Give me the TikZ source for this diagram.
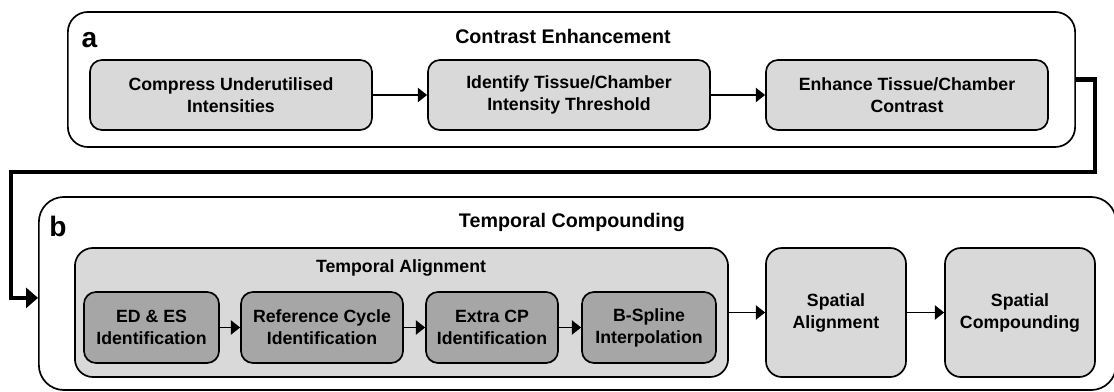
\documentclass[tikz,border=0pt]{standalone}
\usepackage{fontspec}
\setmainfont{Liberation Sans}
\usetikzlibrary{arrows.meta}
\usetikzlibrary{positioning}
\definecolor{lightGray}{HTML}{D9D9D9}
\definecolor{darkGray}{HTML}{A6A6A6}
\tikzstyle{normalLine}=[line width=1.2pt]
\tikzstyle{thickLine}=[line width=3pt]
\tikzstyle{Panel}=[normalLine,draw,fill=white,rounded corners=.5cm,inner sep=0pt]
\tikzstyle{Block}=[normalLine,draw,fill=lightGray,rounded corners=.3cm,align=center,inner sep=0pt,font=\fontsize{12.6}{15.6}\selectfont\bfseries]
\tikzstyle{SubBlock}=[Block,fill=darkGray]
\tikzstyle{Arrow}=[line width=1.4pt,-{Triangle[length=.23cm,width=.35cm]}]
\tikzstyle{BigArrow}=[thickLine,-{Triangle[length=.3cm,width=.5cm]}]
\tikzstyle{Title}=[font=\fontsize{14}{17}\selectfont\bfseries]
\tikzstyle{Letter}=[font=\fontsize{20}{24}\selectfont\bfseries]

\begin{document}
\begin{tikzpicture}[x=0.025cm,y=-0.025cm]

  \useasboundingbox (0,0) rectangle (1114,392);

  % Panel a
  % -------
  \node [Panel,minimum width=25.175cm,minimum height=3.375cm] (A) at (571.5,79.5) {};
  \node [Letter] (aLetter) at (89.5,40) {a};
  \node [Title] (aTitle) at (563,36) {Contrast Enhancement};

  \node [Block,minimum width=7.05cm,minimum height=1.75cm] (compress) at (231,95)
    {Compress Underutilised\\Intensities};
  \node [Block,minimum width=7.05cm,minimum height=1.75cm] (threshold) at (569,95)
    {Identify Tissue/Chamber\\Intensity Threshold};
  \node [Block,minimum width=7.05cm,minimum height=1.75cm] (enhance) at (907,95)
    {Enhance Tissue/Chamber\\Contrast};

  \draw [Arrow] (compress)--(threshold);
  \draw [Arrow] (threshold)--(enhance);

  % Panel b
  % -------
  \node [Panel,rounded corners=.625cm,minimum width=26.925cm,minimum height=4.825cm] (B) at (577.5,293.5) {};
  \node [Letter] (bLetter) at (58,226) {b};
  \node [Title] (bTitle) at (572,222) {Temporal Compounding};

  % Temporal alignment
  \node [Block,rounded corners=.45cm,minimum width=16.325cm,minimum height=3.225cm] (align) at (401.5,312.5) {};
  \node [Block,draw=none,fill=none] (alignTitle) at (401,268) {Temporal Alignment};

  \node [SubBlock,minimum width=3.375cm,minimum height=1.775cm] (edes) at (151.5,327.5)
    {ED \& ES\\Identification};
  \node [SubBlock,minimum width=4.05cm,minimum height=1.775cm] (cycle) at (322,327.5)
    {Reference Cycle\\Identification};
  \node [SubBlock,minimum width=3.3cm,minimum height=1.775cm] (extra) at (492,327.5)
    {Extra CP\\Identification};
  \node [SubBlock,minimum width=3.35cm,minimum height=1.775cm] (spline) at (649,327.5)
    {B-Spline\\Interpolation};

  \draw [Arrow] (edes)--(cycle);
  \draw [Arrow] (cycle)--(extra);
  \draw [Arrow] (extra)--(spline);

  % Spatial steps
  \node [Block,rounded corners=.4cm,minimum width=3.5cm,minimum height=3.225cm] (spAlign) at (836,312.5)
    {Spatial\\Alignment};
  \node [Block,rounded corners=.4cm,minimum width=3.75cm,minimum height=3.225cm] (spComp) at (1020,312.5)
    {Spatial\\Compounding};

  \draw [Arrow] (align)--(spAlign);
  \draw [Arrow] (spAlign)--(spComp);

  % Link a -> b
  \coordinate (turnA) at (1095,172);
  \coordinate (turnB) at (11,172);
  \draw [BigArrow] (A.east) -| (turnA) -- (turnB) |- ([yshift=-.11cm]B.west);

\end{tikzpicture}
\end{document}
